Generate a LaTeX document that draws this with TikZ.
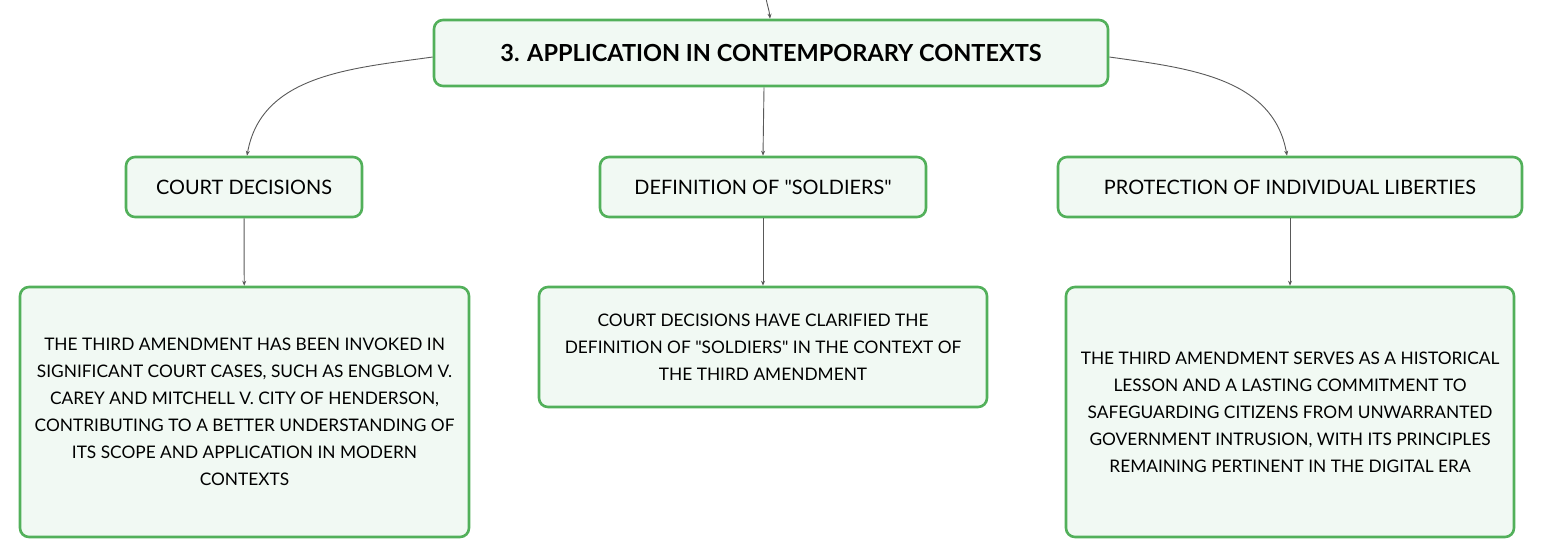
\documentclass[tikz,border=0pt]{standalone}
\usepackage{fontspec}
\setmainfont{Lato}
\usetikzlibrary{arrows.meta}

\definecolor{boxline}{HTML}{52B05A}
\definecolor{boxfill}{HTML}{F1F9F3}

\tikzset{
  box/.style={draw=boxline, line width=2.6pt, rounded corners=9pt,
    fill=boxfill, align=center, inner sep=0pt, font=\fontsize{17.3}{27}\selectfont},
  head/.style={font=\fontsize{19.9}{22}\selectfont, minimum height=60},
  link/.style={draw=black!65, line width=0.9pt, -{Stealth[length=5pt,width=4pt]}}
}

\begin{document}
\begin{tikzpicture}[x=1pt,y=-1pt]
    \useasboundingbox (0,0) rectangle (1542,558);

    \node[box, minimum width=674, minimum height=66, font=\fontsize{23.5}{26}\selectfont\bfseries]
      (app) at (771,53) {3. APPLICATION IN CONTEMPORARY CONTEXTS};

    \node[box, head, minimum width=236] (court) at (244,187) {COURT DECISIONS};
    \node[box, head, minimum width=326] (soldiers) at (763,187) {DEFINITION OF \textquotedbl SOLDIERS\textquotedbl};
    \node[box, head, minimum width=464] (liberties) at (1290,187) {PROTECTION OF INDIVIDUAL LIBERTIES};

    \node[box, minimum width=449, minimum height=250] (courtText) at (244.5,412)
      {THE THIRD AMENDMENT HAS BEEN INVOKED IN\\
       SIGNIFICANT COURT CASES, SUCH AS ENGBLOM V.\\
       CAREY AND MITCHELL V. CITY OF HENDERSON,\\
       CONTRIBUTING TO A BETTER UNDERSTANDING OF\\
       ITS SCOPE AND APPLICATION IN MODERN\\
       CONTEXTS};
    \node[box, minimum width=448, minimum height=120] (soldiersText) at (763,347)
      {COURT DECISIONS HAVE CLARIFIED THE\\
       DEFINITION OF \textquotedbl SOLDIERS\textquotedbl{} IN THE CONTEXT OF\\
       THE THIRD AMENDMENT};
    \node[box, minimum width=448, minimum height=250] (libertiesText) at (1290,412)
      {THE THIRD AMENDMENT SERVES AS A HISTORICAL\\
       LESSON AND A LASTING COMMITMENT TO\\
       SAFEGUARDING CITIZENS FROM UNWARRANTED\\
       GOVERNMENT INTRUSION, WITH ITS PRINCIPLES\\
       REMAINING PERTINENT IN THE DIGITAL ERA};

    % link from the parent, off the top edge
    \coordinate (parent) at (766,-2);
    \draw[link] (parent) to[out=-80,in=95] (app.north -| 770,0);

    \draw[link] (app.west |- 0,57) to[out=188,in=80] (court.north -| 247,0);
    \draw[link] (app.south -| 764,0) -- (soldiers.north -| 763,0);
    \draw[link] (app.east |- 0,57) to[out=-8,in=100] (liberties.north -| 1287,0);

    \draw[link] (court) -- (courtText);
    \draw[link] (soldiers) -- (soldiersText);
    \draw[link] (liberties) -- (libertiesText);
\end{tikzpicture}
\end{document}
